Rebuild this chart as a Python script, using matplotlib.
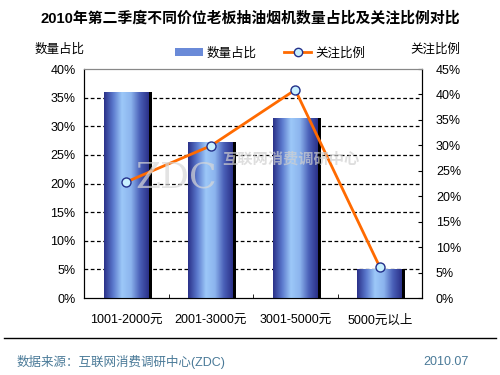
import matplotlib.pyplot as plt
import numpy as np
from matplotlib.lines import Line2D
from matplotlib.patches import Patch
from matplotlib.colors import LinearSegmentedColormap

plt.rcParams['font.family'] = ['Liberation Sans', 'Noto Sans CJK SC', 'DejaVu Sans']

categories = ['1001-2000元', '2001-3000元', '3001-5000元', '5000元以上']
share = [0.36, 0.272, 0.314, 0.051]       # 数量占比 (left axis)
attention = [0.228, 0.299, 0.409, 0.061]  # 关注比例 (right axis)
left_ticks = [0, 0.05, 0.10, 0.15, 0.20, 0.25, 0.30, 0.35, 0.40]
right_ticks = [0, 0.05, 0.10, 0.15, 0.20, 0.25, 0.30, 0.35, 0.40, 0.45]

fig = plt.figure(figsize=(5, 3.75), dpi=100)
ax = fig.add_axes([0.168, 0.2053, 0.676, 0.6107])
x = np.arange(len(categories))
w = 0.53

# shadow, then bars with a horizontal gradient
ax.bar(x + 0.035, share, w, color='black', zorder=2)
bars = ax.bar(x, share, w, color='#6a8ad8', zorder=3)
cmap = LinearSegmentedColormap.from_list('g', ['#2a3088', '#5a78cc', '#9cc8f8', '#8cb4ee', '#4a60b8', '#2a3088'])
grad = np.linspace(0, 1, 256).reshape(1, -1)
for b in bars:
    im = ax.imshow(grad, cmap=cmap, aspect='auto', zorder=4,
                   extent=[b.get_x(), b.get_x() + b.get_width(), 0, b.get_height()])
    im.set_clip_path(b)

ax.set_xlim(-0.5, 3.5)
ax.set_ylim(0, 0.40)
ax.set_yticks(left_ticks)
ax.set_yticklabels([f'{int(round(t*100))}%' for t in left_ticks], fontsize=9)
for t in left_ticks[1:-1]:
    ax.axhline(t, color='black', lw=0.9, ls=(0, (3, 2)), zorder=1)
ax.tick_params(axis='y', length=0, pad=6)
ax.set_xticks(x)
ax.set_xticklabels(categories, fontsize=9)
ax.set_xticks([0.5, 1.5, 2.5], minor=True)
ax.tick_params(axis='x', which='major', length=0, pad=12)
ax.tick_params(axis='x', which='minor', direction='in', length=3)
ax.spines['top'].set_color('#888888')
ax.set_zorder(1)
ax.patch.set_visible(False)

ax2 = ax.twinx()
ax2.plot(x, attention, color='#ff6a00', lw=2, marker='o', markersize=6.5,
         markerfacecolor='#c8f0ff', markeredgecolor='#23308a', markeredgewidth=1, zorder=5)
ax2.set_ylim(0, 0.45)
ax2.set_yticks(right_ticks)
ax2.set_yticklabels([f'{int(round(t*100))}%' for t in right_ticks], fontsize=9)
ax2.tick_params(axis='y', direction='in', length=3, pad=10)
ax2.spines['top'].set_color('#888888')

# watermark
fig.text(0.27, 0.5, 'ZDC', fontsize=26, color='#d8d8d8', alpha=0.7, zorder=10,
         fontfamily='DejaVu Serif')
fig.text(0.445, 0.565, '互联网消费调研中心', fontsize=11, color='#d0d0d0', alpha=0.7,
         fontweight='bold', zorder=10)

fig.text(0.5, 0.952, '2010年第二季度不同价位老板抽油烟机数量占比及关注比例对比',
         ha='center', va='center', fontsize=10.7, fontweight='bold')
fig.text(0.07, 0.869, '数量占比', fontsize=9, va='center')
fig.text(0.92, 0.869, '关注比例', fontsize=9, va='center', ha='right')

handles = [Patch(facecolor='#6a8ad8'),
           Line2D([], [], color='#ff6a00', lw=2, marker='o', markersize=6,
                  markerfacecolor='#c8f0ff', markeredgecolor='#23308a')]
fig.legend(handles, ['数量占比', '关注比例'], loc='center', bbox_to_anchor=(0.54, 0.858),
           ncol=2, frameon=False, fontsize=9, handlelength=2.2, columnspacing=2.2,
           handletextpad=0.3)

fig.add_artist(Line2D([0.008, 0.992], [0.098, 0.098], color='black', lw=1,
                      transform=fig.transFigure))
fig.text(0.034, 0.035, '数据来源：互联网消费调研中心(ZDC)', fontsize=9, color='#4a7a98', va='center')
fig.text(0.846, 0.035, '2010.07', fontsize=9, color='#4a7a98', va='center')

fig.savefig('out.png', dpi=100)
